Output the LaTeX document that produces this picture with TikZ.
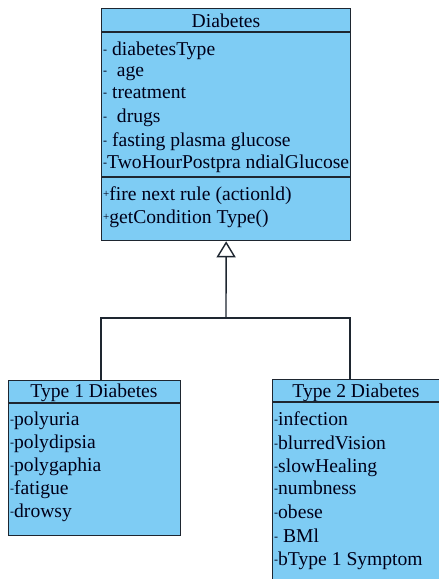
\documentclass[tikz,border=0pt]{standalone}
\usepackage{fontspec}
\setmainfont{Liberation Serif}
\usetikzlibrary{arrows.meta}
\definecolor{umlblue}{RGB}{126,204,244}
\definecolor{umlline}{RGB}{30,38,48}
\newcommand{\dd}{\raisebox{2pt}{\fontsize{12}{12}\selectfont -}}
\newcommand{\pp}{\raisebox{3pt}{\fontsize{11}{11}\selectfont +}}
\begin{document}
\begin{tikzpicture}[x=1pt,y=-1pt,
  umlbox/.style={draw=umlline,fill=umlblue,line width=1.3pt,rectangle,inner sep=0pt,anchor=north west},
  item/.style={anchor=base west,inner sep=0pt,font=\fontsize{19.6}{19.6}\selectfont,text=black!90!blue},
  head/.style={anchor=base,inner sep=0pt,font=\fontsize{19.6}{19.6}\selectfont,text=black!90!blue},
  sep/.style={draw=umlline,line width=1.3pt},
  conn/.style={draw=umlline,line width=1.4pt}]
\clip (0,0) rectangle (439,579);
\fill[white] (0,0) rectangle (439,579);
% Diabetes class
\node[umlbox,minimum width=249pt,minimum height=232pt] (diab) at (101,8) {};
\node[head] (dh) at (226,27) {Diabetes};
\draw[sep] (diab.west |- 0,32) coordinate (ds1) -- (diab.east |- 0,32) coordinate (ds2);
\draw[sep] (diab.west |- 0,177) coordinate (ds3) -- (diab.east |- 0,177) coordinate (ds4);
\node[item] (a1) at (103,55) {\dd\ diabetesType};
\node[item] (a2) at (103,76) {\dd\ \ age};
\node[item] (a3) at (103,98) {\dd\ treatment};
\node[item] (a4) at (103,122) {\dd\ \ drugs};
\node[item] (a5) at (103,146) {\dd\ fasting plasma glucose};
\node[item] (a6) at (103,168) {\dd TwoHourPostpra ndialGlucose};
\node[item] (m1) at (103,200) {\pp fire next rule (actionld)};
\node[item] (m2) at (103,223) {\pp getCondition Type()};
% Type 1
\node[umlbox,minimum width=172pt,minimum height=155pt] (t1) at (8,380) {};
\node[head] (t1h) at (94,397) {Type 1 Diabetes};
\draw[sep] (t1.west |- 0,403) -- (t1.east |- 0,403);
\node[item] (b1) at (10,425) {\dd polyuria};
\node[item] (b2) at (10,448) {\dd polydipsia};
\node[item] (b3) at (10,471) {\dd polygaphia};
\node[item] (b4) at (10,494) {\dd fatigue};
\node[item] (b5) at (10,517) {\dd drowsy};
% Type 2
\node[umlbox,minimum width=172pt,minimum height=205pt] (t2) at (272,379) {};
\node[head] (t2h) at (356,397) {Type 2 Diabetes};
\draw[sep] (t2.west |- 0,402) -- (t2.east |- 0,402);
\node[item] (c1) at (274,425) {\dd infection};
\node[item] (c2) at (274,449) {\dd blurredVision};
\node[item] (c3) at (274,472) {\dd slowHealing};
\node[item] (c4) at (274,494) {\dd numbness};
\node[item] (c5) at (274,518) {\dd obese};
\node[item] (c6) at (274,542) {\dd\ BMl};
\node[item] (c7) at (274,565) {\dd bType 1 Symptom};
% generalization
\coordinate (jm) at (226,318);
\coordinate (jl) at (101,318);
\coordinate (jr) at (350,318);
\draw[conn,-{Triangle[open,width=19pt,length=16pt,line width=1.4pt]}] (jm) -- (diab.south);
\draw[conn] (t1.north -| jl) -- (jl) -- (jr) -- (t2.north -| jr);
\end{tikzpicture}
\end{document}
